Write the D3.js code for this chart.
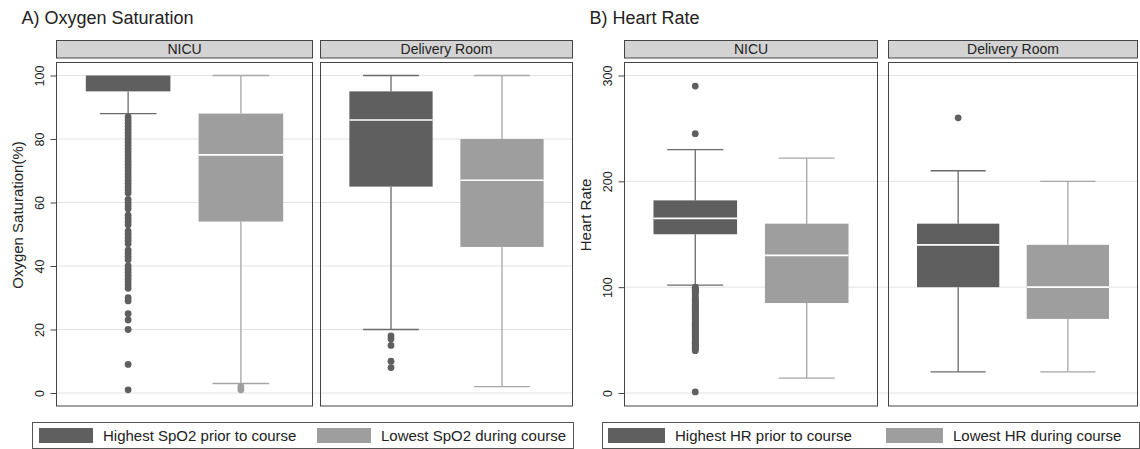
<!DOCTYPE html>
<html lang="en">
<head>
  <meta charset="UTF-8">
  <title>Oxygen saturation and heart rate</title>
  <script src="https://d3js.org/d3.v7.min.js"></script>
  <style>
    body { margin: 0; background: #fff; }
    svg { font-family: "Liberation Sans", Arial, Helvetica, sans-serif; }
  </style>
</head>
<body>
  <div id="root"></div>
  <script>
    // data
    const panels = ['NICU', 'Delivery Room']
    const spo2Series = ['Highest SpO2 prior to course', 'Lowest SpO2 during course']
    const hrSeries = ['Highest HR prior to course', 'Lowest HR during course']
    const spo2Ticks = [0, 20, 40, 60, 80, 100]
    const hrTicks = [0, 100, 200, 300]

    // [lower whisker, q1, median, q3, upper whisker]
    const spo2NicuHigh = [88, 95, 100, 100, 100]
    const spo2NicuLow = [3, 54, 75, 88, 100]
    const spo2DrHigh = [20, 65, 86, 95, 100]
    const spo2DrLow = [2, 46, 67, 80, 100]
    const hrNicuHigh = [102, 150, 165, 182, 230]
    const hrNicuLow = [14, 85, 130, 160, 222]
    const hrDrHigh = [20, 100, 140, 160, 210]
    const hrDrLow = [20, 70, 100, 140, 200]

    // outliers
    const spo2NicuHighOut = [87, 86, 85, 84, 83, 82, 81, 80, 79, 78, 77, 76, 75, 74, 73, 72, 71, 70, 69, 68, 67, 66, 65, 64, 63,
      61, 60, 59, 58, 56, 55, 54, 53, 51, 50, 49, 48, 47, 45, 44, 43, 42, 40, 39, 38, 37, 36, 35, 34, 33,
      30, 29, 25, 23, 20, 9, 1]
    const spo2NicuLowOut = [2, 1]
    const spo2DrHighOut = [18, 17, 15, 10, 8]
    const spo2DrLowOut = []
    const hrNicuHighOut = [290, 245, 100, 99, 98, 97, 96, 95, 94, 92, 90, 89, 88, 87, 86, 85, 84, 83, 82, 81, 80, 79, 78, 77, 76,
      75, 74, 73, 72, 71, 70, 69, 68, 67, 66, 65, 64, 63, 62, 61, 60, 59, 58, 57, 56, 55, 54, 53, 52, 51, 50, 49, 48, 47, 46,
      45, 44, 43, 42, 41, 40, 1]
    const hrNicuLowOut = []
    const hrDrHighOut = [260]
    const hrDrLowOut = []

    const fills = ['#5f5f5f', '#9e9e9e']
    const whiskerColors = ['#6a6a6a', '#a6a6a6']

    const svg = d3.select('#root')
      .append('svg')
      .attr('width', 1140)
      .attr('height', 449)

    function drawChart(cfg) {
      const g = svg.append('g')

      // title
      g.append('text')
        .attr('x', cfg.left - 35)
        .attr('y', 24)
        .attr('font-size', '18px')
        .attr('fill', '#222')
        .text(cfg.title)

      const y = d3.scaleLinear().domain(cfg.domain).range([393, 75.5])

      // grid lines run across both panels
      g.selectAll('line.grid')
        .data(cfg.ticks)
        .enter()
        .append('line')
        .attr('class', 'grid')
        .attr('x1', cfg.left)
        .attr('x2', cfg.panelX[1] + cfg.panelW[1])
        .attr('y1', d => y(d))
        .attr('y2', d => y(d))
        .attr('stroke', '#e3e3e3')
        .attr('stroke-width', 1)

      // y axis
      const yAxisG = g.append('g')
        .attr('transform', `translate(${cfg.left},0)`)
        .call(d3.axisLeft(y).tickValues(cfg.ticks).tickSize(6))
      yAxisG.select('.domain').remove()
      yAxisG.selectAll('.tick line').attr('stroke', '#444')
      yAxisG.selectAll('.tick text')
        .attr('x', 0)
        .attr('dy', 0)
        .attr('text-anchor', 'middle')
        .attr('transform', 'translate(-13,0) rotate(-90)')
        .attr('font-size', '12.5px')
        .attr('fill', '#222')

      g.append('text')
        .attr('transform', `translate(${cfg.left - 34},215) rotate(-90)`)
        .attr('text-anchor', 'middle')
        .attr('font-size', '15px')
        .attr('fill', '#222')
        .text(cfg.yTitle)

      panels.forEach((p, i) => {
        const px = cfg.panelX[i]
        const pw = cfg.panelW[i]

        // strip header
        g.append('rect')
          .attr('x', px).attr('y', 40.5)
          .attr('width', pw).attr('height', 17.5)
          .attr('fill', '#d3d3d3')
          .attr('stroke', '#444')
        g.append('text')
          .attr('x', px + pw / 2)
          .attr('y', 53.5)
          .attr('text-anchor', 'middle')
          .attr('font-size', '14px')
          .attr('fill', '#222')
          .text(p)

        // panel frame
        g.append('rect')
          .attr('x', px).attr('y', 62.5)
          .attr('width', pw).attr('height', 343.5)
          .attr('fill', 'none')
          .attr('stroke', '#444')

        const x = d3.scaleBand()
          .domain(cfg.series)
          .range([px, px + pw])
          .paddingInner(0.25)
          .paddingOuter(0.26)
        const bw = x.bandwidth()

        cfg.series.forEach((s, j) => {
          const st = cfg.stats[i][j]
          const cx = x(s) + bw / 2
          const capW = bw * 0.67
          const box = g.append('g')

          // whiskers, only where they stick out of the box
          const ends = []
          if (st[0] < st[1]) {
            box.append('line')
              .attr('x1', cx).attr('x2', cx)
              .attr('y1', y(st[0])).attr('y2', y(st[1]))
              .attr('stroke', whiskerColors[j]).attr('stroke-width', 1.3)
            ends.push(st[0])
          }
          if (st[4] > st[3]) {
            box.append('line')
              .attr('x1', cx).attr('x2', cx)
              .attr('y1', y(st[3])).attr('y2', y(st[4]))
              .attr('stroke', whiskerColors[j]).attr('stroke-width', 1.3)
            ends.push(st[4])
          }
          box.selectAll('line.cap')
            .data(ends)
            .enter()
            .append('line')
            .attr('class', 'cap')
            .attr('x1', cx - capW / 2).attr('x2', cx + capW / 2)
            .attr('y1', d => y(d)).attr('y2', d => y(d))
            .attr('stroke', whiskerColors[j]).attr('stroke-width', 1.3)

          // box
          box.append('rect')
            .attr('x', x(s))
            .attr('y', y(st[3]))
            .attr('width', bw)
            .attr('height', y(st[1]) - y(st[3]))
            .attr('fill', fills[j])
          if (st[2] < st[3]) {
            box.append('line')
              .attr('x1', x(s)).attr('x2', x(s) + bw)
              .attr('y1', y(st[2])).attr('y2', y(st[2]))
              .attr('stroke', '#fff').attr('stroke-width', 1.6)
          }

          // outliers
          box.selectAll('circle')
            .data(cfg.outliers[i][j])
            .enter()
            .append('circle')
            .attr('cx', cx)
            .attr('cy', d => y(d))
            .attr('r', 3.4)
            .attr('fill', fills[j])
        })
      })

      // legend
      const lg = g.append('g')
      lg.append('rect')
        .attr('x', cfg.legend.x + 0.5).attr('y', 422.5)
        .attr('width', cfg.legend.w).attr('height', 26)
        .attr('fill', '#fff')
        .attr('stroke', '#555')
      cfg.series.forEach((s, j) => {
        lg.append('rect')
          .attr('x', cfg.legend.sw[j]).attr('y', 428)
          .attr('width', cfg.legend.swW).attr('height', 15)
          .attr('fill', fills[j])
        lg.append('text')
          .attr('x', cfg.legend.sw[j] + cfg.legend.swW + 10)
          .attr('y', 441)
          .attr('font-size', '15px')
          .attr('fill', '#222')
          .text(s)
      })
    }

    drawChart({
      title: 'A) Oxygen Saturation',
      yTitle: 'Oxygen Saturation(%)',
      domain: [0, 100],
      ticks: spo2Ticks,
      series: spo2Series,
      left: 56.5,
      panelX: [56.5, 320.5],
      panelW: [256, 252],
      stats: [[spo2NicuHigh, spo2NicuLow], [spo2DrHigh, spo2DrLow]],
      outliers: [[spo2NicuHighOut, spo2NicuLowOut], [spo2DrHighOut, spo2DrLowOut]],
      legend: { x: 32, w: 541, sw: [39, 317], swW: 54 }
    })

    drawChart({
      title: 'B) Heart Rate',
      yTitle: 'Heart Rate',
      domain: [0, 300],
      ticks: hrTicks,
      series: hrSeries,
      left: 624.5,
      panelX: [624.5, 888.5],
      panelW: [253, 249],
      stats: [[hrNicuHigh, hrNicuLow], [hrDrHigh, hrDrLow]],
      outliers: [[hrNicuHighOut, hrNicuLowOut], [hrDrHighOut, hrDrLowOut]],
      legend: { x: 602, w: 537, sw: [608, 886], swW: 57 }
    })
  </script>
</body>
</html>
